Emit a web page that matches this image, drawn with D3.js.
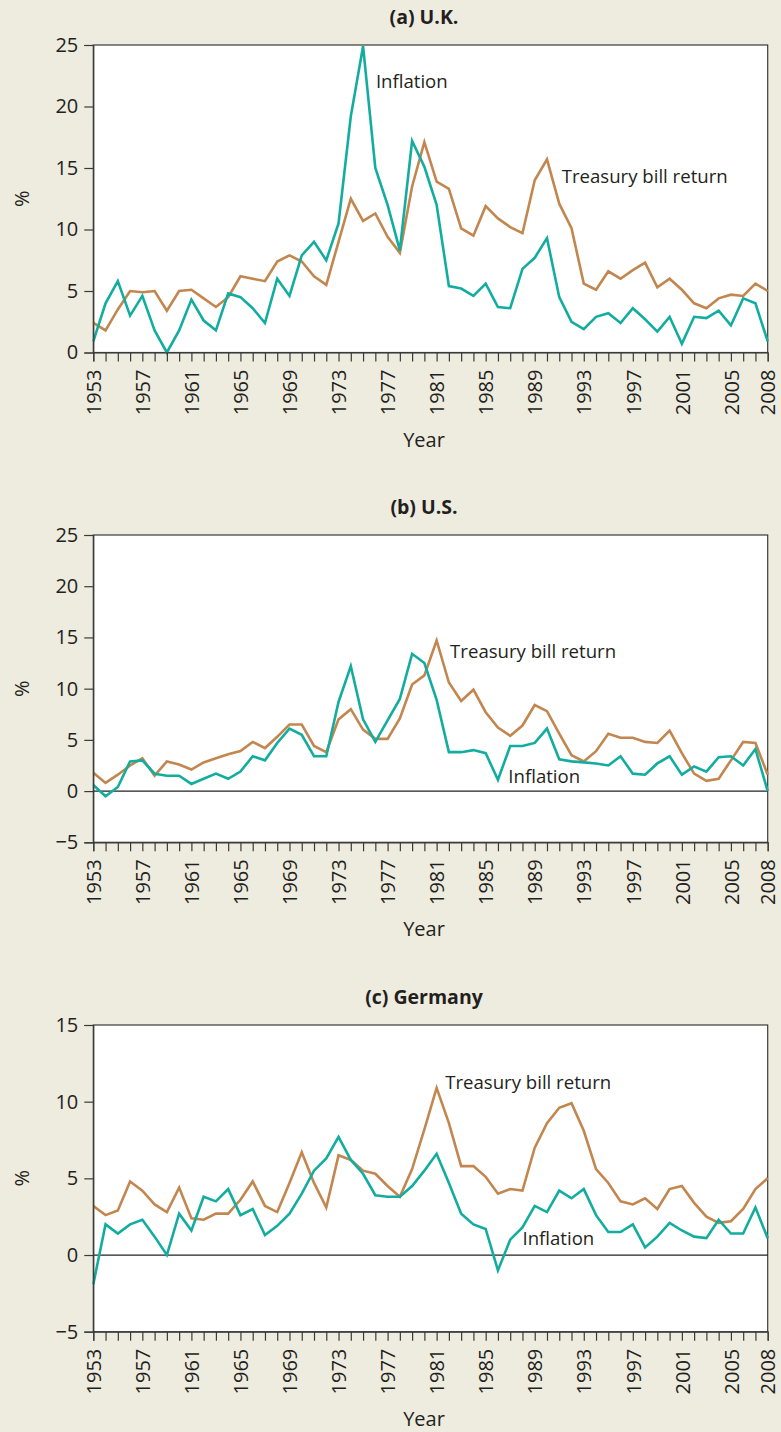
<!DOCTYPE html>
<html><head><meta charset="utf-8">
<script src="https://cdn.jsdelivr.net/npm/d3@7"></script>
<style>
html,body{margin:0;padding:0;background:#eeebdf;}
svg{display:block;font-family:"Open Sans","Noto Sans",sans-serif;}
</style></head>
<body>
<svg id="chart" width="781" height="1432"></svg>
<script>
const years = d3.range(1953, 2009);
const yearLabels = [1953,1957,1961,1965,1969,1973,1977,1981,1985,1989,1993,1997,2001,2005,2008];

const ukInflation = [0.9,4.0,5.8,3.0,4.6,1.8,0.0,1.8,4.3,2.6,1.8,4.8,4.5,3.6,2.4,6.0,4.6,7.9,9.0,7.5,10.5,19.2,24.9,15.0,12.0,8.3,17.2,15.1,12.0,5.4,5.2,4.6,5.6,3.7,3.6,6.8,7.7,9.3,4.5,2.5,1.9,2.9,3.2,2.4,3.6,2.7,1.7,2.9,0.7,2.9,2.8,3.4,2.2,4.4,4.0,0.9];
const ukTbill = [2.4,1.8,3.5,5.0,4.9,5.0,3.4,5.0,5.1,4.4,3.7,4.5,6.2,6.0,5.8,7.4,7.9,7.4,6.2,5.5,9.0,12.5,10.7,11.3,9.4,8.1,13.5,17.1,13.9,13.3,10.1,9.5,11.9,10.9,10.2,9.7,14.0,15.7,12.1,10.1,5.6,5.1,6.6,6.0,6.7,7.3,5.3,6.0,5.1,4.0,3.6,4.4,4.7,4.6,5.6,5.0];

const usInflation = [0.6,-0.5,0.4,2.9,3.0,1.7,1.5,1.5,0.7,1.2,1.7,1.2,1.9,3.4,3.0,4.7,6.1,5.5,3.4,3.4,8.7,12.2,7.0,4.8,6.9,9.0,13.4,12.5,8.9,3.8,3.8,4.0,3.7,1.1,4.4,4.4,4.7,6.1,3.1,2.9,2.8,2.7,2.5,3.4,1.7,1.6,2.7,3.4,1.6,2.4,1.9,3.3,3.4,2.5,4.1,0.0];
const usTbill = [1.8,0.8,1.6,2.5,3.2,1.5,2.9,2.6,2.1,2.8,3.2,3.6,3.9,4.8,4.2,5.3,6.5,6.5,4.4,3.8,7.0,8.0,6.0,5.1,5.1,7.1,10.4,11.3,14.7,10.6,8.8,9.9,7.7,6.2,5.4,6.4,8.4,7.8,5.6,3.5,2.9,3.9,5.6,5.2,5.2,4.8,4.7,5.9,3.7,1.7,1.0,1.2,3.0,4.8,4.7,1.6];

const deInflation = [-1.9,2.0,1.4,2.0,2.3,1.2,0.0,2.7,1.6,3.8,3.5,4.3,2.6,3.0,1.3,1.9,2.7,4.0,5.5,6.3,7.7,6.2,5.3,3.9,3.8,3.8,4.5,5.5,6.6,4.7,2.7,2.0,1.7,-1.0,1.0,1.8,3.2,2.8,4.2,3.7,4.3,2.6,1.5,1.5,2.0,0.5,1.2,2.1,1.6,1.2,1.1,2.3,1.4,1.4,3.1,1.1];
const deTbill = [3.2,2.6,2.9,4.8,4.2,3.3,2.8,4.4,2.4,2.3,2.7,2.7,3.6,4.8,3.2,2.8,4.7,6.7,4.7,3.1,6.5,6.2,5.5,5.3,4.5,3.8,5.6,8.2,10.9,8.6,5.8,5.8,5.1,4.0,4.3,4.2,7.0,8.6,9.6,9.9,8.1,5.6,4.7,3.5,3.3,3.7,3.0,4.3,4.5,3.4,2.5,2.1,2.2,3.0,4.3,5.0];

const panelTitles = ["(a) U.K.", "(b) U.S.", "(c) Germany"];
const yDomains = [[0,25],[-5,25],[-5,15]];
const yTicks = [[0,5,10,15,20,25],[-5,0,5,10,15,20,25],[-5,0,5,10,15]];
const seriesInfl = [ukInflation, usInflation, deInflation];
const seriesTbill = [ukTbill, usTbill, deTbill];
const labelTexts = ["Treasury bill return", "Inflation"];
// label anchor positions: [year, value] for each panel
const tbLabelPos = [[1991.2, 13.8], [1982.1, 13.0], [1981.7, 10.8]];
const infLabelPos = [[1976.05, 21.5], [1986.85, 0.78], [1988.0, 0.63]];

const teal = "#13ada0", brown = "#c2864f";
const left = 93.3, right = 767.7;
const tops = [45, 535, 1025], bottoms = [352.5, 842.3, 1331.7];

const svg = d3.select("#chart");
svg.append("rect").attr("width",781).attr("height",1432).attr("fill","#eeebdf");

const x = d3.scaleLinear().domain([1953,2008]).range([left,right]);

for (let p = 0; p < 3; p++) {
  const y = d3.scaleLinear().domain(yDomains[p]).range([bottoms[p], tops[p]]);
  const g = svg.append("g");
  g.append("rect").attr("x",left).attr("y",tops[p]).attr("width",right-left).attr("height",bottoms[p]-tops[p])
    .attr("fill","#fff").attr("stroke","#3a3a3a").attr("stroke-width",1.2);

  if (yDomains[p][0] < 0) {
    g.append("line").attr("x1",left).attr("x2",right).attr("y1",y(0)).attr("y2",y(0))
      .attr("stroke","#222").attr("stroke-width",1.2);
  }

  const line = d3.line().x((d,i)=>x(years[i])).y(d=>y(d));
  g.append("path").datum(seriesTbill[p]).attr("d",line).attr("fill","none")
    .attr("stroke",brown).attr("stroke-width",2.6).attr("stroke-linejoin","miter");
  g.append("path").datum(seriesInfl[p]).attr("d",line).attr("fill","none")
    .attr("stroke",teal).attr("stroke-width",2.6).attr("stroke-linejoin","miter");

  // axes
  const xAxis = d3.axisBottom(x).tickValues(years).tickSize(9).tickPadding(8)
    .tickFormat(d => yearLabels.includes(d) ? String(d) : "");
  const xg = g.append("g").attr("transform",`translate(0,${bottoms[p]})`).call(xAxis);
  xg.select(".domain").attr("stroke","#3a3a3a").attr("stroke-width",1.2);
  xg.selectAll(".tick line").attr("stroke","#3a3a3a").attr("stroke-width",1.2);
  xg.selectAll(".tick text").attr("transform","rotate(-90)").attr("text-anchor","end")
    .attr("x",-17).attr("y",0).attr("dy","0.36em")
    .attr("font-size",20).attr("fill","#231f20").attr("font-family","Open Sans");

  const yAxis = d3.axisLeft(y).tickValues(yTicks[p]).tickSize(9).tickPadding(6)
    .tickFormat(d => d < 0 ? "\u2212" + Math.abs(d) : String(d));
  const yg = g.append("g").attr("transform",`translate(${left},0)`).call(yAxis);
  yg.select(".domain").attr("stroke","#3a3a3a").attr("stroke-width",1.2);
  yg.selectAll(".tick line").attr("stroke","#3a3a3a").attr("stroke-width",1.2);
  yg.selectAll(".tick text").attr("font-size",20).attr("fill","#231f20").attr("font-family","Open Sans");

  // title
  g.append("text").attr("x",424).attr("y",tops[p]-21).attr("text-anchor","middle")
    .attr("font-size",19.5).attr("font-weight","bold").attr("fill","#231f20").text(panelTitles[p]);
  // axis titles
  g.append("text").attr("x",424).attr("y",bottoms[p]+94).attr("text-anchor","middle")
    .attr("font-size",20).attr("fill","#231f20").text("Year");
  const cy = (tops[p]+bottoms[p])/2;
  g.append("text").attr("transform",`translate(29,${cy}) rotate(-90)`).attr("text-anchor","middle")
    .attr("font-size",20).attr("fill","#231f20").text("%");

  // series labels
  g.append("text").attr("x",x(tbLabelPos[p][0])).attr("y",y(tbLabelPos[p][1]))
    .attr("font-size",18.6).attr("fill","#231f20").text(labelTexts[0]);
  g.append("text").attr("x",x(infLabelPos[p][0])).attr("y",y(infLabelPos[p][1]))
    .attr("font-size",18.6).attr("fill","#231f20").text(labelTexts[1]);
}
</script>
</body></html>
